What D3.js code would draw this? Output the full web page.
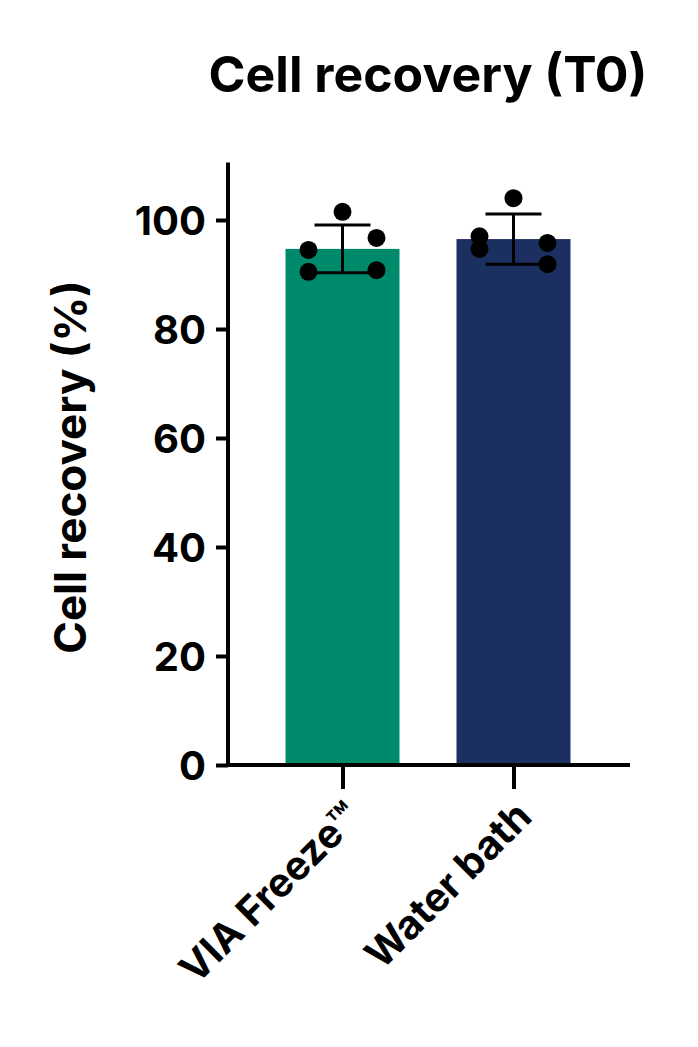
<!DOCTYPE html>
<html>
<head>
<meta charset="utf-8">
<script src="https://cdn.jsdelivr.net/npm/d3@7"></script>
<style>
  body { margin: 0; background: #fff; }
  text { font-family: Inter, "Liberation Sans", sans-serif; font-weight: 700; fill: #000; }
</style>
</head>
<body>
<div id="chart"></div>
<script>
const groups = ["VIA Freeze™", "Water bath"];
const means = [94.7, 96.5];
const sdLow = [90.3, 91.9];
const sdHigh = [99.1, 101.1];
const points = [
  [101.5, 94.5, 96.7, 90.5, 90.8],
  [104.0, 97.0, 95.8, 94.7, 91.9]
];
const pointOffsets = [0, -17, 17, -17, 17];
const colors = ["#008a6c", "#1c2f61"];
const yTicks = [0, 20, 40, 60, 80, 100];

const W = 698, H = 1047;
const barWidth = 114;
const svg = d3.select("#chart").append("svg").attr("width", W).attr("height", H);

const x = d3.scalePoint().domain(groups).range([257, 599]).padding(0.5);
const y = d3.scaleLinear().domain([0, 110]).range([765, 165.5]);

// bars
svg.selectAll(".bar").data(groups).enter().append("rect")
  .attr("x", d => x(d) - barWidth / 2).attr("width", barWidth)
  .attr("y", (d, i) => y(means[i])).attr("height", (d, i) => y(0) - y(means[i]))
  .attr("fill", (d, i) => colors[i]);

// error bars + points
groups.forEach((g, i) => {
  const cx = x(g);
  const e = svg.append("g").attr("stroke", "#000").attr("stroke-width", 3);
  e.append("line").attr("x1", cx).attr("x2", cx).attr("y1", y(sdHigh[i])).attr("y2", y(sdLow[i]));
  [sdHigh[i], sdLow[i]].forEach(v => e.append("line")
    .attr("x1", cx - 28).attr("x2", cx + 28).attr("y1", y(v)).attr("y2", y(v)));
  svg.selectAll(null).data(points[i]).enter().append("circle")
    .attr("cx", (d, j) => cx + pointOffsets[j] * 2 * 0.5 * 2 / 1)
    .attr("cy", d => y(d)).attr("r", 9).attr("fill", "#000");
});

// axes
const yAxis = svg.append("g").attr("transform", "translate(228,0)")
  .call(d3.axisLeft(y).tickValues(yTicks).tickSize(12).tickPadding(10));
yAxis.select(".domain").attr("d", `M0,${y(110) - 3}V${y(0)}`);
const xAxis = svg.append("g").attr("transform", "translate(0,765)")
  .call(d3.axisBottom(x).tickSize(24).tickSizeOuter(0));
xAxis.select(".domain").attr("d", "M228,0H630");
svg.selectAll(".domain, .tick line").attr("stroke", "#000").attr("stroke-width", 4);
yAxis.selectAll("text").attr("font-size", 40).attr("dy", "0.35em");
xAxis.selectAll("text").attr("font-size", 40)
  .attr("text-anchor", "end").attr("dy", "0.35em")
  .attr("transform", "translate(10,44) rotate(-45)").attr("x", 0).attr("y", 0);

svg.append("text").attr("x", 428).attr("y", 92).attr("text-anchor", "middle")
  .attr("font-size", 50).text("Cell recovery (T0)");
svg.append("text").attr("transform", "translate(86,467) rotate(-90)")
  .attr("text-anchor", "middle").attr("font-size", 44).text("Cell recovery (%)");
</script>
</body>
</html>
